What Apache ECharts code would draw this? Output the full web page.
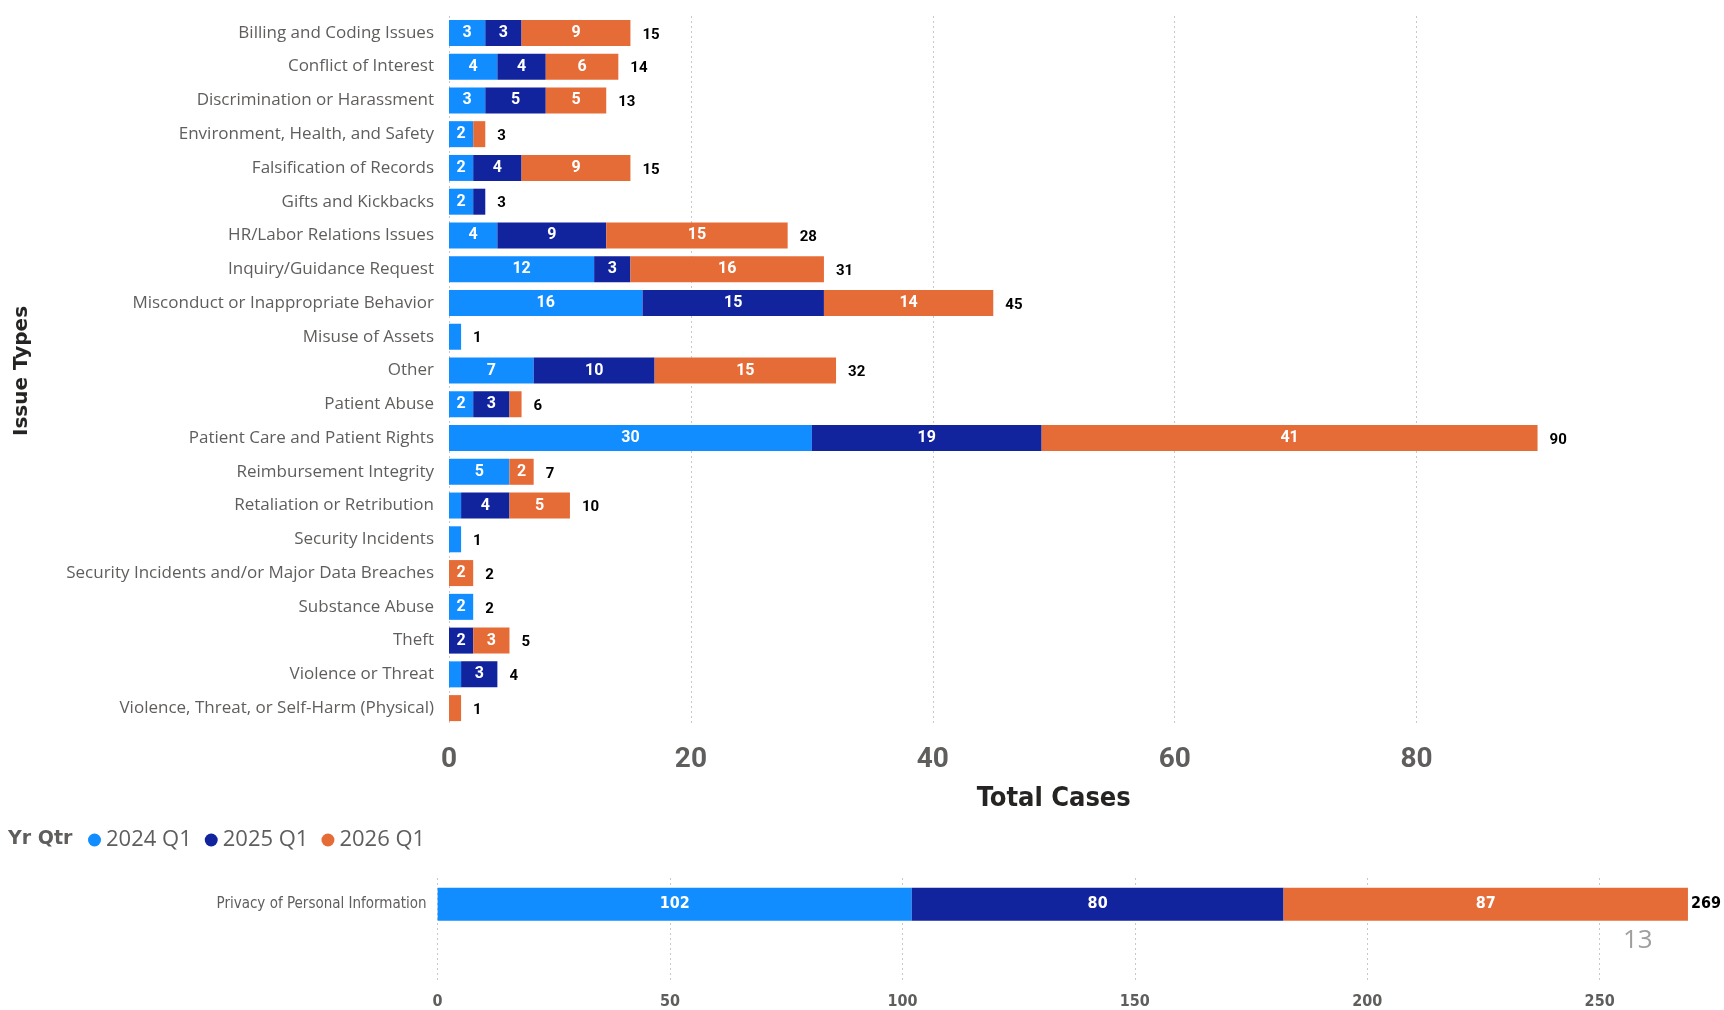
<!DOCTYPE html>
<html>
<head>
<meta charset="utf-8">
<script src="https://cdn.jsdelivr.net/npm/echarts@6/dist/echarts.min.js"></script>
<style>
html,body{margin:0;padding:0;background:#fff;}
#chart{width:1724px;height:1010px;}
</style>
</head>
<body>
<div id="chart"></div>
<script>
const categories = [
  'Billing and Coding Issues','Conflict of Interest','Discrimination or Harassment',
  'Environment, Health, and Safety','Falsification of Records','Gifts and Kickbacks',
  'HR/Labor Relations Issues','Inquiry/Guidance Request','Misconduct or Inappropriate Behavior',
  'Misuse of Assets','Other','Patient Abuse','Patient Care and Patient Rights',
  'Reimbursement Integrity','Retaliation or Retribution','Security Incidents',
  'Security Incidents and/or Major Data Breaches','Substance Abuse','Theft',
  'Violence or Threat','Violence, Threat, or Self-Harm (Physical)'
];
const q2024 = [3,4,3,2,2,2,4,12,16,1,7,2,30,5,1,1,0,2,0,1,0];
const q2025 = [3,4,5,0,4,1,9,3,15,0,10,3,19,0,4,0,0,0,2,3,0];
const q2026 = [9,6,5,1,9,0,15,16,14,0,15,1,41,2,5,0,2,0,3,0,1];

const privacyCats = ['Privacy of Personal Information'];
const p2024 = [102];
const p2025 = [80];
const p2026 = [87];

const seriesNames = ['2024 Q1','2025 Q1','2026 Q1'];
const mainTicks = [0,20,40,60,80];
const bottomTicks = [0,50,100,150,200,250];

const colors = ['#118DFF','#12239E','#E66C37'];
const sum3 = (a,b,c) => a.map((v,i) => v + b[i] + c[i]);
const totals = sum3(q2024,q2025,q2026);
const pTotals = sum3(p2024,p2025,p2026);

const NARROW = "'Liberation Sans Narrow','DejaVu Sans Condensed',Roboto,sans-serif";
const GRIDLINE = { show: true, lineStyle: { type: [2, 3], color: '#C8C8C8', width: 1 } };

function segSeries(name, data, color, xi, yi, small) {
  return {
    name: name, type: 'bar', stack: 'g' + xi, xAxisIndex: xi, yAxisIndex: yi,
    data: data, barWidth: small ? 33 : 26,
    itemStyle: { color: color },
    label: {
      show: true, position: 'inside', color: '#fff',
      fontFamily: small ? NARROW : 'Roboto', fontWeight: 'bold', fontSize: small ? 16 : 16,
      formatter: p => (p.value >= 2 ? String(p.value) : '')
    },
    emphasis: { disabled: true }
  };
}

const chart = echarts.init(document.getElementById('chart'), null, {renderer: 'canvas'});
chart.setOption({
  animation: false,
  color: colors,
  grid: [
    { left: 449, top: 16, width: 1209.5, height: 709 },
    { left: 437.6, top: 878, width: 1255, height: 105 }
  ],
  legend: {
    data: seriesNames, left: 83, top: 824, icon: 'circle',
    itemWidth: 13, itemHeight: 13, itemGap: 13,
    textStyle: { fontFamily: "'Open Sans',sans-serif", fontSize: 22, color: '#605E5C' }
  },
  xAxis: [
    {
      type: 'value', gridIndex: 0, min: 0, max: 100, interval: 20,
      axisLine: { show: false }, axisTick: { show: false, customValues: mainTicks },
      axisLabel: { customValues: mainTicks, fontFamily: 'Roboto', fontWeight: 'bold', fontSize: 28, color: '#605E5C', margin: 21 },
      splitLine: GRIDLINE,
      name: 'Total Cases', nameLocation: 'middle', nameGap: 60,
      nameTextStyle: { fontFamily: NARROW, fontWeight: 'bold', fontSize: 27, color: '#252423' }
    },
    {
      type: 'value', gridIndex: 1, min: 0, max: 270, interval: 50,
      axisLine: { show: false }, axisTick: { show: false, customValues: bottomTicks },
      axisLabel: { customValues: bottomTicks, fontFamily: NARROW, fontWeight: 'bold', fontSize: 16, color: '#605E5C', margin: 11 },
      splitLine: GRIDLINE
    }
  ],
  yAxis: [
    {
      type: 'category', gridIndex: 0, data: categories, inverse: true,
      axisLine: { show: false }, axisTick: { show: false },
      axisLabel: { fontFamily: "'Open Sans',sans-serif", fontSize: 17, color: '#605E5C', margin: 15 }
    },
    {
      type: 'category', gridIndex: 1, data: privacyCats, inverse: true, max: 1,
      axisLine: { show: false }, axisTick: { show: false },
      axisLabel: { fontFamily: NARROW, fontSize: 15, color: '#605E5C', margin: 11,
        formatter: v => (v ? v : '') }
    }
  ],
  graphic: [
    { type: 'text', x: 22, y: 371, rotation: Math.PI / 2,
      style: { text: 'Issue Types', fontFamily: "'DejaVu Sans',sans-serif", fontWeight: 'bold', fontSize: 20, fill: '#252423',
        align: 'center', verticalAlign: 'middle' } },
    { type: 'text', left: 8, top: 830, style: { text: 'Yr Qtr', fontFamily: "'DejaVu Sans',sans-serif", fontWeight: 'bold', fontSize: 19, fill: '#605E5C' } },
    { type: 'text', left: 1623, top: 928, style: { text: '13', fontFamily: "'Open Sans',sans-serif", fontSize: 26, fill: '#A19F9D' } }
  ],
  series: [
    segSeries(seriesNames[0], q2024, colors[0], 0, 0, false),
    segSeries(seriesNames[1], q2025, colors[1], 0, 0, false),
    segSeries(seriesNames[2], q2026, colors[2], 0, 0, false),
    {
      name: 'Total', type: 'bar', xAxisIndex: 0, yAxisIndex: 0, data: totals,
      barWidth: 26, barGap: '-100%', itemStyle: { color: 'rgba(0,0,0,0)' }, silent: true, z: 1,
      label: { show: true, position: 'right', distance: 12, offset: [0, 2], color: '#000',
        fontFamily: 'Roboto', fontWeight: 'bold', fontSize: 15 }
    },
    segSeries(seriesNames[0], p2024, colors[0], 1, 1, true),
    segSeries(seriesNames[1], p2025, colors[1], 1, 1, true),
    segSeries(seriesNames[2], p2026, colors[2], 1, 1, true),
    {
      name: 'Total', type: 'bar', xAxisIndex: 1, yAxisIndex: 1, data: pTotals,
      barWidth: 33, barGap: '-100%', itemStyle: { color: 'rgba(0,0,0,0)' }, silent: true, z: 1,
      label: { show: true, position: 'right', distance: 3, color: '#000',
        fontFamily: NARROW, fontWeight: 'bold', fontSize: 16 }
    }
  ]
});
</script>
</body>
</html>
